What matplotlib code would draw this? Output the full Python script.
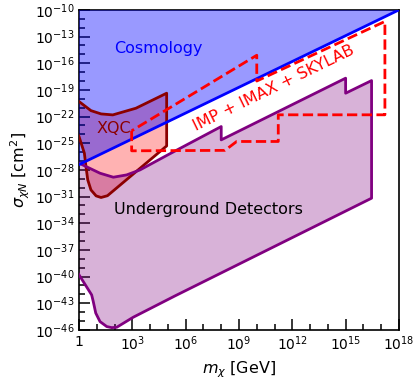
import numpy as np
import matplotlib
matplotlib.use("Agg")
import matplotlib.pyplot as plt
from matplotlib.ticker import NullFormatter

# all limits as log10(m / GeV), log10(sigma / cm^2)
cosmo_logm = [0.0, 18.0]
cosmo_logs = [-27.4, -10.0]

xqc_logm = [-0.3, 0.0, 0.67, 1.24, 1.9, 3.2, 4.93,
            4.93, 1.6, 1.24, 0.96, 0.67, 0.49, 0.39, 0.3, 0.0, -0.3]
xqc_logs = [-20.0, -20.31, -21.33, -21.70, -21.81, -21.06, -19.37,
            -25.3, -30.9, -31.1, -30.92, -30.25, -29.12, -27.63, -26.12, -24.25, -23.0]

dd_logm = [-0.3, 0.0, 1.18, 1.93, 2.68, 3.43, 5.0, 8.0, 8.0, 15.0, 15.0, 16.46,
           16.46, 5.4, 3.05, 2.12, 1.84, 1.56, 1.18, 0.94, 0.8, 0.71, 0.0, -0.3]
dd_logs = [-27.2, -27.24, -28.37, -28.82, -28.56, -28.0, -26.3, -23.12, -24.62, -17.68, -19.37, -17.95,
           -31.18, -42.17, -44.57, -45.7, -45.74, -45.62, -45.06, -44.1, -42.8, -42.06, -39.8, -38.8]

imp_logm = [2.96, 2.96, 8.21, 8.87, 11.21, 11.21, 17.21, 17.21, 10.0, 10.0, 2.96]
imp_logs = [-23.6, -25.85, -25.8, -24.8, -24.8, -21.8, -21.8, -11.3, -18.0, -15.1, -23.6]

xtick_pows = [0, 3, 6, 9, 12, 15, 18]
ytick_pows = [-10, -13, -16, -19, -22, -25, -28, -31, -34, -37, -40, -43, -46]


def p10(a):
    return 10.0 ** np.asarray(a, dtype=float)


fig = plt.figure(figsize=(4.16, 3.81), dpi=100)
ax = fig.add_axes([0.19, 0.134, 0.769, 0.840])

# fills
ax.fill(p10(xqc_logm), p10(xqc_logs), color="red", alpha=0.3, lw=0, zorder=1)
ax.fill(p10(dd_logm), p10(dd_logs), color="purple", alpha=0.3, lw=0, zorder=2)
slope = (cosmo_logs[1] - cosmo_logs[0]) / (cosmo_logm[1] - cosmo_logm[0])
cm_log = np.array([-0.5, 18.5])
cm = p10(cm_log)
cs = p10(cosmo_logs[0] + slope * (cm_log - cosmo_logm[0]))
ax.fill_between(cm, cs, 1e-5, color="blue", alpha=0.4, lw=0, zorder=3)

# outlines
ax.plot(p10(xqc_logm), p10(xqc_logs), color="darkred", lw=2, zorder=4)
ax.plot(p10(dd_logm), p10(dd_logs), color="purple", lw=2, zorder=5)
ax.plot(cm, cs, color="blue", lw=2, zorder=6)
ax.plot(p10(imp_logm), p10(imp_logs), color="red", lw=2, ls="--", zorder=7)

ax.text(10**4.44, 10**-14.39, "Cosmology", color="blue", fontsize=11.5,
        ha="center", va="center", zorder=8)
ax.text(10**1.93, 10**-23.3, "XQC", color="darkred", fontsize=11.5,
        ha="center", va="center", zorder=8)
ax.text(10**7.27, 10**-32.42, "Underground Detectors", color="black", fontsize=11.5,
        ha="center", va="center", zorder=8)
ax.text(10**10.97, 10**-18.77, "IMP + IMAX + SKYLAB", color="red", fontsize=11.5,
        ha="center", va="center", rotation=26, rotation_mode="anchor", zorder=8)

ax.set_xscale("log")
ax.set_yscale("log")
ax.set_xlim(1, 1e18)
ax.set_ylim(1e-46, 1e-10)
ax.set_xticks(p10(xtick_pows))
ax.set_xticklabels([r"$1$"] + [rf"$10^{{{p}}}$" for p in xtick_pows[1:]])
ax.set_yticks(p10(ytick_pows))
ax.set_yticklabels([rf"$10^{{{p}}}$" for p in ytick_pows])
ax.set_xticks(p10(range(0, 19)), minor=True)
ax.set_yticks(p10(range(-46, -9)), minor=True)
ax.xaxis.set_minor_formatter(NullFormatter())
ax.yaxis.set_minor_formatter(NullFormatter())
ax.tick_params(which="major", direction="in", length=8, width=1.1, labelsize=10, top=False, right=False)
ax.tick_params(which="minor", direction="in", length=4, width=1.1, top=False, right=False)
for s in ax.spines.values():
    s.set_linewidth(1.2)

ax.set_xlabel(r"$m_\chi$ [GeV]", fontsize=11.5, labelpad=4)
ax.set_ylabel(r"$\sigma_{\chi N}$ [cm$^2$]", fontsize=11.5, labelpad=2)

fig.savefig("out.png", dpi=100)
